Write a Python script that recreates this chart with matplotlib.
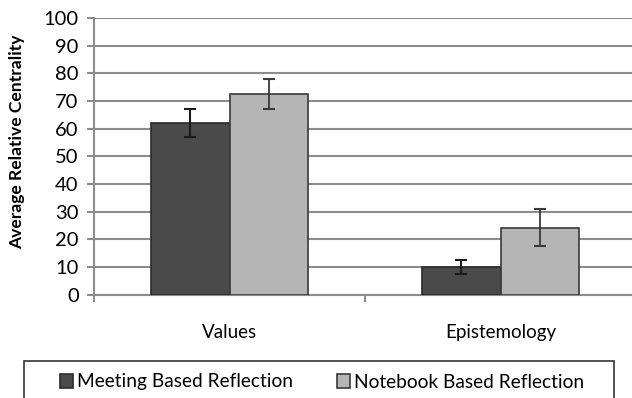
import matplotlib
matplotlib.use('Agg')
import matplotlib.pyplot as plt
from matplotlib.patches import Rectangle

# data
categories = ['Values', 'Epistemology']
meeting = [62, 10]
meeting_err = [5, 2.6]
notebook = [72.5, 24.2]
notebook_err = [5.5, 6.7]
series_names = ['Meeting Based Reflection', 'Notebook Based Reflection']
yticks = list(range(0, 101, 10))

plt.rcParams['font.family'] = ['Lato', 'DejaVu Sans']

W, H = 632, 398
fig = plt.figure(figsize=(W / 100, H / 100), dpi=100)
ax = fig.add_axes([94 / W, 1 - 294.5 / H, 542 / W, (294.5 - 18) / H])

x = list(range(len(categories)))
bw = 0.288
dark = '#4a4a4a'
light = '#b5b5b5'

ax.bar([i - bw / 2 for i in x], meeting, bw, color=dark, edgecolor='#2a2a2a',
       linewidth=1.2, label=series_names[0], zorder=3)
ax.bar([i + bw / 2 for i in x], notebook, bw, color=light, edgecolor='#3a3a3a',
       linewidth=1.2, label=series_names[1], zorder=3)
ax.errorbar([i - bw / 2 for i in x], meeting, yerr=meeting_err, fmt='none',
            ecolor='#1a1a1a', elinewidth=1.5, capsize=4, capthick=1.5, zorder=4)
ax.errorbar([i + bw / 2 for i in x], notebook, yerr=notebook_err, fmt='none',
            ecolor='#3a3a3a', elinewidth=1.3, capsize=4, capthick=1.5, zorder=4)

ax.set_xlim(-0.5, 1.5)
ax.set_ylim(0, 100)
ax.set_yticks(yticks)
ax.yaxis.grid(True, color='#8c8c8c', linewidth=1.5, zorder=0)
ax.set_axisbelow(True)

ax.set_xticks(x)
ax.set_xticklabels(categories, fontsize=13.5)
ax.set_xticks([-0.5, 0.5, 1.5], minor=True)
ax.tick_params(axis='x', which='major', length=0, pad=21)
ax.tick_params(axis='x', which='minor', length=5, color='#8c8c8c', width=1.5)
ax.tick_params(axis='y', length=5, color='#8c8c8c', width=1.5, labelsize=14.5, pad=6)

for s in ['top', 'right']:
    ax.spines[s].set_visible(False)
for s in ['left', 'bottom']:
    ax.spines[s].set_color('#8c8c8c')
    ax.spines[s].set_linewidth(1.5)

fig.text(17 / W, 1 - 142 / H, 'Average Relative Centrality', rotation=90,
         fontsize=12.6, fontweight='bold', ha='center', va='center')

# legend box, cut off by the bottom edge as in the reference
fig.patches.append(Rectangle((24 / W, -0.05), 590 / W, 0.05 + (398 - 361) / H,
                             transform=fig.transFigure, fill=False,
                             edgecolor='#333333', linewidth=1.2))
fig.legend(loc='center', bbox_to_anchor=(322 / W, 1 - 382 / H), ncol=2,
           frameon=False, fontsize=13.8, handlelength=0.7, handleheight=0.8,
           handletextpad=0.2, columnspacing=2.3)

fig.savefig('out.png', dpi=100)
